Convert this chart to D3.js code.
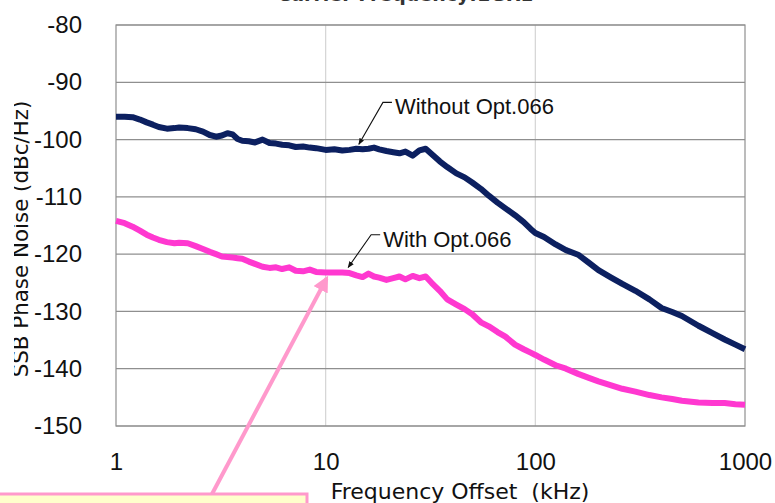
<!DOCTYPE html>
<html><head><meta charset="utf-8">
<script src="https://cdn.jsdelivr.net/npm/d3@7"></script>
<style>html,body{margin:0;padding:0;background:#fff;overflow:hidden}</style>
</head><body>
<svg id="c" width="775" height="503"></svg>
<script>
const titleText = "Carrier Frequency:1GHz";
const xLabel = "Frequency Offset\u00a0 (kHz)";
const yLabel = "SSB Phase Noise (dBc/Hz)";
const xTicks = [1, 10, 100, 1000];
const yTicks = [-80, -90, -100, -110, -120, -130, -140, -150];
const freq = [1,1.1,1.2,1.3,1.4,1.5,1.6,1.75,1.9,2,2.2,2.4,2.6,2.8,3,3.2,3.4,3.6,3.8,4,4.3,4.6,5,5.4,5.8,6.2,6.7,7.2,7.8,8.4,9,10,11,12,13,14,15,16,17,18,19.5,21,22.5,24,26,28,30,32,35,38,42,46,50,55,60,66,72,80,88,95,100,110,125,140,160,180,200,230,260,300,350,400,450,500,600,700,800,900,1000];
const withoutOpt = [-96.0,-96.0,-96.1,-96.5,-97.0,-97.4,-97.8,-98.1,-98.0,-97.9,-98.0,-98.2,-98.6,-99.2,-99.5,-99.3,-98.9,-99.1,-99.9,-100.2,-100.3,-100.5,-100.0,-100.6,-100.7,-100.9,-101.0,-101.3,-101.2,-101.4,-101.5,-101.8,-101.7,-101.9,-101.8,-101.6,-101.7,-101.6,-101.4,-101.7,-102.0,-102.2,-102.4,-102.1,-102.8,-101.9,-101.6,-102.5,-103.8,-104.8,-105.9,-106.6,-107.5,-108.6,-109.8,-111.0,-112.0,-113.2,-114.4,-115.6,-116.3,-117.0,-118.3,-119.3,-120.1,-121.5,-122.8,-124.1,-125.2,-126.4,-127.9,-129.4,-130.1,-130.8,-132.5,-133.8,-134.9,-135.8,-136.6];
const withOpt = [-114.2,-114.6,-115.2,-115.9,-116.6,-117.1,-117.5,-117.9,-118.1,-118.0,-118.1,-118.6,-119.1,-119.6,-120.0,-120.4,-120.5,-120.6,-120.7,-120.8,-121.3,-121.7,-122.2,-122.4,-122.3,-122.6,-122.3,-122.9,-123.0,-122.7,-123.1,-123.2,-123.2,-123.2,-123.3,-123.7,-124.0,-123.4,-123.9,-124.1,-124.5,-124.2,-123.9,-124.4,-123.8,-124.2,-123.9,-125.0,-126.4,-127.9,-128.8,-129.6,-130.5,-131.9,-132.6,-133.6,-134.4,-135.8,-136.6,-137.2,-137.6,-138.4,-139.4,-140.0,-140.9,-141.6,-142.2,-142.9,-143.5,-144.0,-144.6,-145.0,-145.3,-145.6,-145.9,-146.0,-146.0,-146.2,-146.3];
const seriesNames = ["Without Opt.066", "With Opt.066"];

const svg = d3.select("#c");
const L = 116, R = 745, T = 25, B = 426;
const x = d3.scaleLog().domain([1, 1000]).range([L, R]);
const y = d3.scaleLinear().domain([-150, -80]).range([B, T]);
const fmt = d => String(d);

// vertical grid
svg.append("g").selectAll("line").data([10, 100]).join("line")
  .attr("x1", d => x(d)).attr("x2", d => x(d)).attr("y1", T).attr("y2", B)
  .attr("stroke", "#d4d4d4").attr("stroke-width", 1.2);
// horizontal grid
svg.append("g").selectAll("line").data(yTicks).join("line")
  .attr("x1", L).attr("x2", R).attr("y1", d => y(d)).attr("y2", d => y(d))
  .attr("stroke", "#8f8f8f").attr("stroke-width", 1.2);
// frame
svg.append("rect").attr("x", L).attr("y", T).attr("width", R - L).attr("height", B - T)
  .attr("fill", "none").attr("stroke", "#8f8f8f").attr("stroke-width", 1.2);

const yAxis = svg.append("g").attr("transform", `translate(${L},0)`)
  .call(d3.axisLeft(y).tickValues(yTicks).tickSize(0).tickPadding(34).tickFormat(fmt));
yAxis.select(".domain").remove();
yAxis.selectAll("text").attr("font-family", "Liberation Sans").attr("font-size", 24).attr("fill", "#111");

const xAxis = svg.append("g").attr("transform", `translate(0,${B})`)
  .call(d3.axisBottom(x).tickValues(xTicks).tickSize(0).tickPadding(27).tickFormat(fmt));
xAxis.select(".domain").remove();
xAxis.selectAll("text").attr("font-family", "Liberation Sans").attr("font-size", 24).attr("fill", "#111");

// lines
const line = d3.line().x((d, i) => x(freq[i])).y(d => y(d)).curve(d3.curveLinear);
svg.append("path").datum(withoutOpt).attr("d", line).attr("fill", "none")
  .attr("stroke", "#0c2060").attr("stroke-width", 6).attr("stroke-linejoin", "round");
svg.append("path").datum(withOpt).attr("d", line).attr("fill", "none")
  .attr("stroke", "#ff38d0").attr("stroke-width", 6).attr("stroke-linejoin", "round");

// title (cut off at top, as in the reference)
svg.append("text").attr("x", 405).attr("y", 1).attr("text-anchor", "middle")
  .attr("font-family", "DejaVu Sans").attr("font-weight", "bold").attr("font-size", 19)
  .attr("fill", "#333").text(titleText);

// axis titles
svg.append("text").attr("x", 460).attr("y", 499).attr("text-anchor", "middle")
  .attr("font-family", "DejaVu Sans").attr("font-size", 22).attr("fill", "#111")
  .attr("xml:space", "preserve").text(xLabel);
svg.append("defs").append("clipPath").attr("id", "ylc")
  .append("rect").attr("x", 14).attr("y", 0).attr("width", 40).attr("height", 503);
svg.append("g").attr("clip-path", "url(#ylc)")
  .append("text").attr("transform", "translate(28,239) rotate(-90)").attr("text-anchor", "middle")
  .attr("font-family", "DejaVu Sans").attr("font-size", 21.4).attr("fill", "#111").text(yLabel);

// callouts
const defs = svg.append("defs");
defs.append("marker").attr("id", "ah").attr("viewBox", "0 0 10 10").attr("refX", 9).attr("refY", 5)
  .attr("markerWidth", 6).attr("markerHeight", 6).attr("orient", "auto")
  .append("path").attr("d", "M0,1 L10,5 L0,9 z").attr("fill", "#111");
defs.append("marker").attr("id", "ahp").attr("viewBox", "0 0 10 10").attr("refX", 8).attr("refY", 5)
  .attr("markerWidth", 4).attr("markerHeight", 4).attr("orient", "auto")
  .append("path").attr("d", "M0,0 L10,5 L0,10 z").attr("fill", "#ff99cc");

function callout(x0, y0, fx, fy, label) {
  const tx = x(x0), ty = y(y0);
  svg.append("path").attr("d", `M${tx - 3},${ty - 12} L${tx - 12},${ty - 12} L${x(fx)},${y(fy) - 5}`)
    .attr("fill", "none").attr("stroke", "#111").attr("stroke-width", 1.1).attr("marker-end", "url(#ah)");
  svg.append("text").attr("x", tx).attr("y", ty).attr("font-family", "Liberation Sans")
    .attr("font-size", 22).attr("fill", "#111").text(label);
}
callout(21.4, -95.6, 14.4, -101.7, seriesNames[0]);
callout(18.8, -118.7, 12.8, -123.2, seriesNames[1]);

// annotation box + arrow
svg.append("rect").attr("x", -5).attr("y", 494).attr("width", 312).attr("height", 30)
  .attr("fill", "#ffffcc").attr("stroke", "#ff99cc").attr("stroke-width", 3);
svg.append("line").attr("x1", 212).attr("y1", 494).attr("x2", x(10.1)).attr("y2", y(-123.2) + 6)
  .attr("stroke", "#ff99cc").attr("stroke-width", 4).attr("marker-end", "url(#ahp)");
</script>
</body></html>
